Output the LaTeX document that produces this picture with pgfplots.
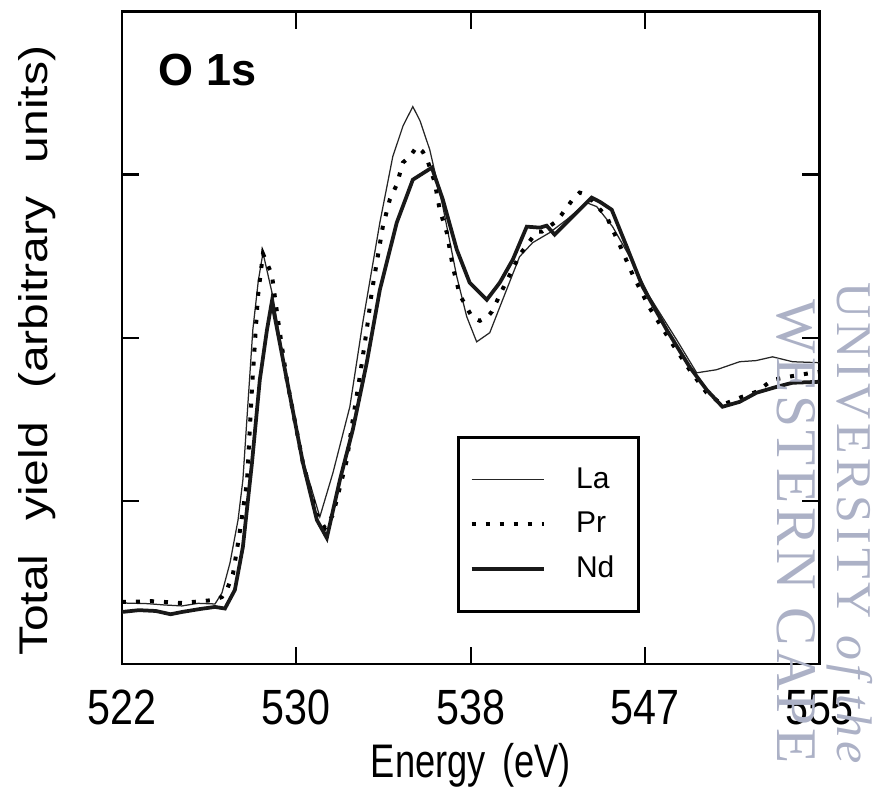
\documentclass[border=0pt]{standalone}
\usepackage{graphicx}
\usepackage{pgfplots}
\pgfplotsset{compat=1.18}
\usepackage{fontspec}
\setmainfont{Liberation Sans}
\newfontfamily\wmfont{Liberation Serif}
\definecolor{wm}{RGB}{172,177,198}

% scanned original is stretched a little in height
\newcommand{\tall}[2][1.2]{\scalebox{1}[#1]{#2}}

\begin{document}
\begin{tikzpicture}
\useasboundingbox (0pt,0pt) rectangle (350.8pt,316pt);
\begin{axis}[
    at={(48.8pt,50.4pt)}, anchor=south west,
    scale only axis,
    width=279pt, height=261pt,
    xmin=522, xmax=555, ymin=0, ymax=4,
    xtick={522,530.25,538.5,546.75,555},
    xticklabels={\tall{522},\tall{530},\tall{538},\tall{547},\tall{555}},
    ytick={1,2,3}, yticklabels={},
    tick align=inside,
    major tick length=7pt,
    tick style={line width=0.9pt, black},
    axis line style={line width=1.1pt},
    ticklabel style={font=\fontsize{16.5}{18}\selectfont},
    xticklabel style={yshift=-7pt},
    xlabel={\tall[1.3]{Energy\hspace{0.45em}(eV)}},
    ylabel={\scalebox{1.2}[1]{Total\hspace{0.7em}yield\hspace{0.7em}(arbitrary\hspace{0.7em}units)}},
    xlabel style={font=\fontsize{14.5}{16}\selectfont,
        at={(axis description cs:0.5,-0.155)}, anchor=center},
    ylabel style={font=\fontsize{16}{18}\selectfont,
        at={(axis description cs:-0.122,0.48)}, anchor=center},
    clip=false,
    legend image code/.code={\draw[#1] (0pt,0pt) -- (29pt,0pt);},
    legend cell align=left,
    legend style={at={(rel axis cs:0.742,0.078)}, anchor=south east,
        draw=black, line width=1.1pt, font=\fontsize{12}{14}\selectfont,
        row sep=4pt, column sep=10pt, inner xsep=4.5pt, inner ysep=10pt},
]
% La
\addplot[black!85, line width=0.5pt] coordinates {
(522.00,0.374) (523.2,0.37) (524.0,0.362) (524.84,0.356) (525.6,0.372) (526.40,0.368)
(526.73,0.436) (527.11,0.620) (527.49,0.883) (527.72,1.129) (527.96,1.60)
(528.19,2.049) (528.45,2.35) (528.67,2.521) (529.14,2.252) (529.80,1.742)
(530.56,1.252) (531.36,0.902) (531.98,1.172) (532.78,1.577) (533.39,2.092)
(534.20,2.706) (534.81,3.110) (535.3,3.30) (535.76,3.417) (536.10,3.33) (536.56,3.153)
(537.18,2.804) (537.84,2.374) (538.31,2.129) (538.78,1.975) (539.40,2.031)
(540.01,2.233) (540.81,2.497) (541.43,2.583) (542.23,2.644) (543.04,2.724)
(543.98,2.828) (544.46,2.804) (545.21,2.681) (546.02,2.497) (546.96,2.252)
(548.24,1.988) (549.19,1.785) (550.13,1.804) (551.22,1.853) (552.0,1.86)
(552.78,1.883) (553.73,1.853) (555.00,1.847)
};
\addlegendentry{La\hspace*{3pt}}
% Pr
\addplot[black, line width=1.6pt, dash pattern=on 1.6pt off 4pt] coordinates {
(522.00,0.380) (523.4,0.385) (524.84,0.374) (526.40,0.393) (526.73,0.411)
(526.96,0.454) (527.25,0.552) (527.53,0.773) (527.91,1.110) (528.15,1.693)
(528.43,2.252) (528.67,2.515) (529.09,2.387) (529.38,2.110) (529.80,1.742)
(530.56,1.233) (531.22,0.914) (531.60,0.834) (531.98,0.914) (532.64,1.252)
(532.92,1.497) (533.25,1.761) (533.58,2.049) (533.82,2.282) (534.10,2.497)
(534.34,2.681) (534.67,2.847) (535.00,2.939) (535.29,3.074) (535.62,3.110)
(535.95,3.172) (536.23,3.141) (536.47,3.080) (536.80,2.951) (537.03,2.785)
(537.37,2.644) (537.65,2.436) (537.98,2.264) (538.31,2.184) (538.59,2.123)
(538.93,2.104) (539.26,2.123) (539.50,2.160) (540.11,2.325) (540.82,2.509)
(541.62,2.650) (541.86,2.650) (542.47,2.706) (542.80,2.755) (543.32,2.847)
(543.65,2.890) (543.98,2.877) (544.93,2.742) (545.54,2.571) (546.16,2.387)
(546.96,2.184) (547.91,1.988) (548.85,1.804) (549.66,1.663) (550.41,1.589)
(551.22,1.632) (552.02,1.669) (552.78,1.742) (554.05,1.773) (555.00,1.791)
};
\addlegendentry{Pr\hspace*{3pt}}
% Nd
\addplot[black!90, line width=1.5pt] coordinates {
(522.00,0.319) (522.8,0.33) (523.6,0.325) (524.3,0.305) (524.84,0.319)
(525.69,0.337) (526.40,0.350) (526.87,0.340) (527.34,0.454) (527.72,0.718)
(527.96,1.006) (528.15,1.233) (528.52,1.742) (528.86,2.049) (529.09,2.221)
(529.80,1.742) (530.56,1.233) (531.22,0.883) (531.69,0.773) (532.31,1.129)
(532.92,1.436) (533.58,1.847) (534.20,2.294) (535.00,2.706) (535.76,2.969)
(536.66,3.043) (537.18,2.847) (537.84,2.540) (538.45,2.337) (539.26,2.233)
(539.87,2.337) (540.49,2.479) (541.15,2.681) (541.77,2.675) (542.09,2.687)
(542.47,2.632) (543.04,2.706) (543.65,2.785) (544.22,2.859) (544.60,2.834)
(545.17,2.785) (545.88,2.558) (546.63,2.313) (547.77,2.049) (548.85,1.822)
(549.66,1.681) (550.41,1.577) (551.22,1.607) (552.02,1.663) (552.97,1.699)
(553.72,1.724) (555.00,1.730)
};
\addlegendentry{Nd\hspace*{3pt}}

\node[anchor=west, font=\fontsize{18}{20}\selectfont\bfseries]
  at (rel axis cs:0.040,0.910) {O\hspace{0.28em}1s};

\node[rotate=-90, anchor=west, text=wm,
      font=\wmfont\addfontfeatures{LetterSpace=5.5}\fontsize{23}{25}\selectfont]
  at (rel axis cs:0.967,0.572) {WESTERN CAPE};
\node[rotate=-90, anchor=west, text=wm, inner sep=0pt,
      font=\wmfont\addfontfeatures{LetterSpace=8}\fontsize{20}{22}\selectfont]
  at (rel axis cs:1.043,0.585) {UNIVERSITY \textit{of the}};
\end{axis}
\end{tikzpicture}
\end{document}
